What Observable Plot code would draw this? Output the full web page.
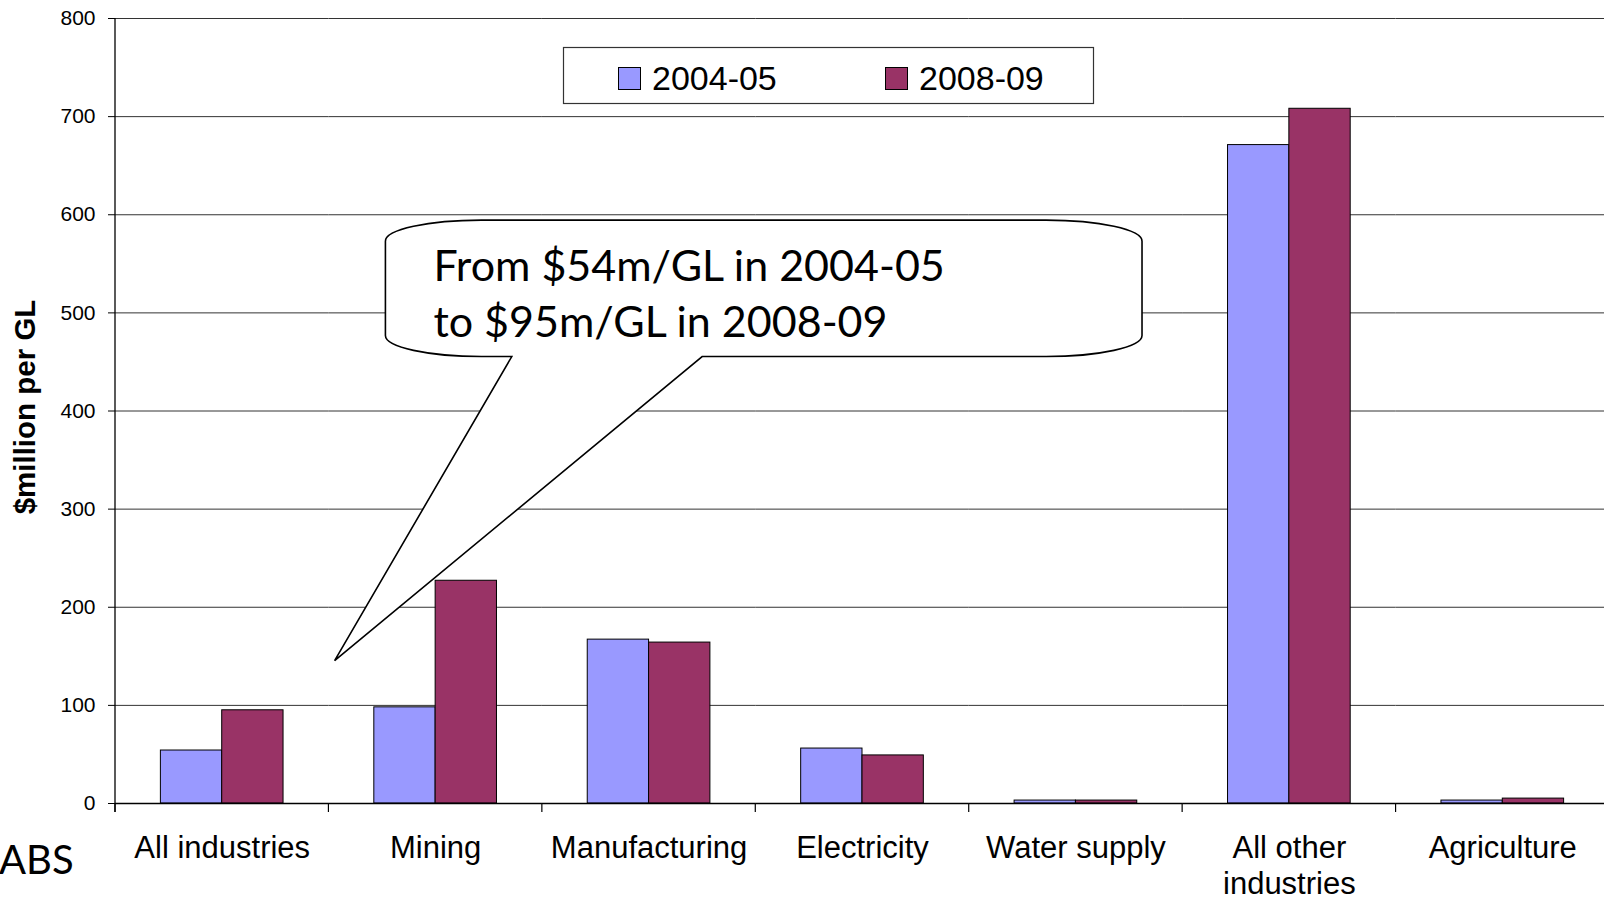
<!DOCTYPE html>
<html>
<head>
<meta charset="utf-8">
<script src="https://cdn.jsdelivr.net/npm/d3@7"></script>
<script src="https://cdn.jsdelivr.net/npm/@observablehq/plot@0.6"></script>
<style>
  html, body { margin: 0; padding: 0; background: white; overflow: hidden; }
  #chart svg { display: block; }
</style>
</head>
<body>
<div id="chart"></div>
<script>
// Water productivity by industry ($ value added per GL of water used)
const categories = ["All industries", "Mining", "Manufacturing", "Electricity", "Water supply", "All other industries", "Agriculture"];
const categoryLabels = ["All industries", "Mining", "Manufacturing", "Electricity", "Water supply", "All other\nindustries", "Agriculture"];
const series = ["2004-05", "2008-09"];
const values2004 = [54, 98, 167, 56, 3, 671, 3];
const values2008 = [95, 227, 164, 49, 3, 708, 5];
const seriesColors = ["#9999FF", "#993366"];
const yTicks = [0, 100, 200, 300, 400, 500, 600, 700, 800];
const yLabel = "$million per GL";
const calloutLines = ["From $54m/GL in 2004-05", "to $95m/GL in 2008-09"];
const sourceNote = "ABS";

const rows = categories.flatMap((c, i) => [
  {category: c, series: series[0], value: values2004[i]},
  {category: c, series: series[1], value: values2008[i]}
]);

const chart = Plot.plot({
  width: 1604,
  height: 899,
  marginLeft: 115,
  marginRight: -5,
  marginTop: 18,
  marginBottom: 96,
  style: {fontFamily: "'Liberation Sans', Arial, sans-serif", fontSize: "21px", color: "black", background: "white", overflow: "visible"},
  fx: {domain: categories, padding: 0, round: false, axis: null, label: null},
  x: {domain: series, paddingInner: 0, paddingOuter: 0.74, round: false, axis: null, label: null},
  y: {domain: [0, 800], ticks: yTicks, tickSize: 7, tickPadding: 13, label: null},
  color: {domain: series, range: seriesColors},
  marks: [
    Plot.ruleY(yTicks.slice(1), {stroke: "#333", strokeWidth: 1}),
    Plot.barY(rows, {fx: "category", x: "series", y: "value", fill: "series", stroke: "black", strokeWidth: 1}),
    Plot.ruleY([0], {stroke: "black", strokeWidth: 1.3}),
    Plot.text(categories, {
      fx: d => d, text: (d, i) => categoryLabels[i],
      frameAnchor: "bottom", lineAnchor: "top", dy: 29,
      fontSize: 31, lineHeight: 1.16, fill: "black"
    }),
    Plot.text([yLabel], {
      fx: () => categories[0], text: d => d,
      frameAnchor: "left", rotate: -90, textAnchor: "middle", lineAnchor: "middle",
      dx: -90, dy: -4, fontSize: 29.5, fontWeight: "bold", fill: "black"
    })
  ]
});
document.getElementById("chart").append(chart);

// Scales from the rendered plot, used for the axis line, category ticks, legend and callout
const fxInfo = chart.scale("fx");
const yInfo = chart.scale("y");
const colorInfo = chart.scale("color");
const band = d3.scaleBand(fxInfo.domain, fxInfo.range)
  .paddingInner(fxInfo.paddingInner ?? 0)
  .paddingOuter(fxInfo.paddingOuter ?? 0)
  .align(fxInfo.align ?? 0.5);
const y = d3.scaleLinear(yInfo.domain, yInfo.range);
const color = d3.scaleOrdinal(colorInfo.domain, colorInfo.range);
const x0 = band.range()[0];
const xAt = p => x0 + p * band.step();

const svg = d3.select(chart);
const g = svg.append("g").attr("text-anchor", "start");

// Vertical value axis line and category boundary ticks
g.append("line")
  .attr("x1", x0).attr("x2", x0)
  .attr("y1", y(800)).attr("y2", y(0) + 9)
  .attr("stroke", "black").attr("stroke-width", 1.3);
const bounds = categories.map(c => band(c)).concat([band(categories.at(-1)) + band.step()]);
g.selectAll("line.bound").data(bounds).join("line")
  .attr("class", "bound")
  .attr("x1", d => d).attr("x2", d => d)
  .attr("y1", y(0)).attr("y2", y(0) + 9)
  .attr("stroke", "black").attr("stroke-width", 1.2);

// Legend box
const legend = g.append("g")
  .attr("font-family", "'Liberation Sans', Arial, sans-serif")
  .attr("font-size", 34)
  .attr("text-anchor", "start");
legend.append("rect")
  .attr("x", 563.5).attr("y", 47.5).attr("width", 530).attr("height", 56)
  .attr("fill", "white").attr("stroke", "#333").attr("stroke-width", 1.2);
const legendX = [618, 885];
series.forEach((s, i) => {
  legend.append("rect")
    .attr("x", legendX[i] + 0.5).attr("y", 67.5).attr("width", 22).attr("height", 22)
    .attr("fill", color(s)).attr("stroke", "black").attr("stroke-width", 1);
  legend.append("text")
    .attr("x", legendX[i] + 34).attr("y", 90)
    .attr("fill", "black").text(s);
});

// Callout pointing at the all-industries change
const L = xAt(1.267), R = xAt(4.812);
const T = y(594), B = y(455);
const tipX = xAt(1.029), tipY = y(145);
const baseL = xAt(1.859), baseR = xAt(2.751);
const rx = 96, ry = 21;
const path = [
  `M${L},${T + ry}`,
  `A${rx},${ry} 0 0 1 ${L + rx},${T}`,
  `L${R - rx},${T}`,
  `A${rx},${ry} 0 0 1 ${R},${T + ry}`,
  `L${R},${B - ry}`,
  `A${rx},${ry} 0 0 1 ${R - rx},${B}`,
  `L${baseR},${B}`,
  `L${tipX},${tipY}`,
  `L${baseL},${B}`,
  `L${L + rx},${B}`,
  `A${rx},${ry} 0 0 1 ${L},${B - ry}`,
  "Z"
].join(" ");
g.append("path")
  .attr("d", path)
  .attr("fill", "white").attr("stroke", "black").attr("stroke-width", 1.6)
  .attr("stroke-linejoin", "miter");
const callText = g.append("text")
  .attr("font-family", "Lato, 'Open Sans', sans-serif")
  .attr("font-size", 43)
  .attr("text-anchor", "start")
  .attr("fill", "black");
calloutLines.forEach((line, i) => {
  callText.append("tspan")
    .attr("x", L + 48).attr("y", T + 61 + i * 56)
    .text(line);
});

// Source note
g.append("text")
  .attr("x", -1).attr("y", 874)
  .attr("font-family", "Lato, 'Open Sans', sans-serif")
  .attr("font-size", 40)
  .attr("text-anchor", "start")
  .attr("fill", "black")
  .text(sourceNote);
</script>
</body>
</html>
